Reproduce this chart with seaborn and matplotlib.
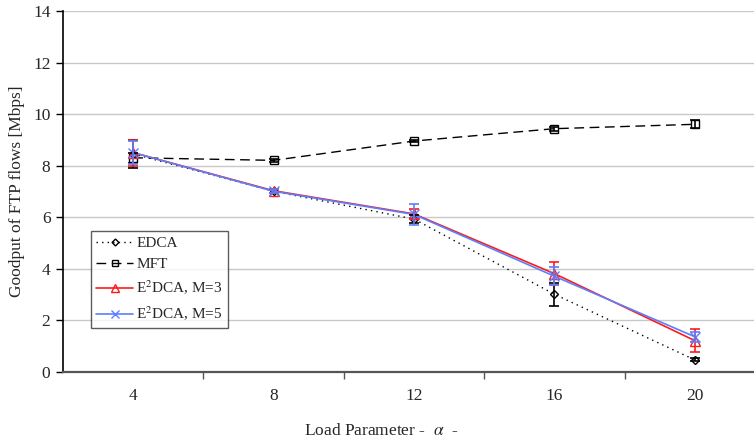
import numpy as np
import pandas as pd
import seaborn as sns
import matplotlib
matplotlib.use("Agg")
import matplotlib.pyplot as plt
from matplotlib.lines import Line2D

# Load parameter values (x axis)
alpha = [4, 8, 12, 16, 20]

# Goodput of FTP flows [Mbps] per scheme
edca = [8.45, 7.00, 5.92, 3.00, 0.45]
mft = [8.30, 8.20, 8.95, 9.43, 9.60]
e2dca_m3 = [8.50, 7.02, 6.12, 3.80, 1.20]
e2dca_m5 = [8.50, 7.00, 6.10, 3.70, 1.35]

# Half-widths of the confidence intervals
edca_err = [0.55, 0.08, 0.15, 0.45, 0.06]
mft_err = [0.20, 0.05, 0.05, 0.08, 0.15]
e2dca_m3_err = [0.50, 0.08, 0.20, 0.45, 0.45]
e2dca_m5_err = [0.45, 0.08, 0.40, 0.35, 0.20]

series_names = ["EDCA", "MFT", "E$^2$DCA, M=3", "E$^2$DCA, M=5"]
series_vals = [edca, mft, e2dca_m3, e2dca_m5]
series_errs = [edca_err, mft_err, e2dca_m3_err, e2dca_m5_err]

frames = []
for name, vals, errs in zip(series_names, series_vals, series_errs):
    frames.append(pd.DataFrame({"alpha": alpha, "goodput": vals,
                                "err": errs, "scheme": name}))
df = pd.concat(frames, ignore_index=True)

sns.set_theme(style="white")
plt.rcParams["font.family"] = ["Liberation Serif", "DejaVu Serif"]
plt.rcParams["mathtext.fontset"] = "stix"

styles = {
    "EDCA": dict(color="black", ls=(0, (1, 3)), marker="D", ms=4.5, lw=1.0),
    "MFT": dict(color="black", ls=(0, (7, 4)), marker="s", ms=6, lw=1.0),
    "E$^2$DCA, M=3": dict(color="#ff1a1a", ls="-", marker="^", ms=7, lw=1.2),
    "E$^2$DCA, M=5": dict(color="#5b7fff", ls="-", marker="x", ms=7, lw=1.2),
}

fig = plt.figure(figsize=(7.54, 4.44), dpi=100)
ax = fig.add_axes([63 / 754, (444 - 371.5) / 444, 702 / 754, 360.5 / 444])

palette = {k: v["color"] for k, v in styles.items()}
sns.lineplot(data=df, x="alpha", y="goodput", hue="scheme", palette=palette,
             hue_order=series_names, ax=ax, legend=False, errorbar=None,
             sort=False)

handles = []
for line, name in zip(ax.lines, series_names):
    st = styles[name]
    line.set_linestyle(st["ls"])
    line.set_linewidth(st["lw"])
    line.set_marker(st["marker"])
    line.set_markersize(st["ms"])
    line.set_markerfacecolor("none" if st["marker"] != "x" else st["color"])
    line.set_markeredgecolor(st["color"])
    line.set_markeredgewidth(1.0)
    sub = df[df["scheme"] == name]
    ax.errorbar(sub["alpha"], sub["goodput"], yerr=sub["err"], fmt="none",
                ecolor=st["color"], elinewidth=1.2, capsize=3.5, capthick=1.2,
                zorder=line.get_zorder())
    handles.append(Line2D([], [], color=st["color"], ls=st["ls"], lw=st["lw"],
                          marker=st["marker"], ms=st["ms"] - 1,
                          mfc="none" if st["marker"] != "x" else st["color"],
                          mec=st["color"]))

ax.set_xlim(2, 22)
ax.set_ylim(0, 14)
ax.set_yticks(np.arange(0, 15, 2))
ax.set_xticks(alpha)
ax.set_xticks([6, 10, 14, 18], minor=True)
ax.tick_params(axis="x", which="major", length=0, pad=12, labelsize=12.5)
ax.tick_params(axis="x", which="minor", length=5, width=1, color="#555555",
               direction="out", bottom=True)
ax.tick_params(axis="y", which="major", length=5, width=1, color="black",
               direction="out", left=True, labelsize=12.5, pad=4)
ax.yaxis.grid(True, color="#c8c8c8", lw=1)
ax.set_axisbelow(True)

for s in ["top", "right"]:
    ax.spines[s].set_visible(False)
ax.spines["left"].set_color("black")
ax.spines["left"].set_linewidth(1.2)
ax.spines["bottom"].set_color("#555555")
ax.spines["bottom"].set_linewidth(1.6)

ax.set_xlabel("")
ax.set_ylabel("Goodput of FTP flows [Mbps]", fontsize=12.5, labelpad=6)
fig.text(381 / 754, 1 - 431 / 444, "Load Parameter -  $\\alpha$  -",
         ha="center", va="center", fontsize=12.5)

leg = ax.legend(handles, series_names, loc="upper left",
                bbox_to_anchor=(91 / 754, 1 - 231 / 444),
                bbox_transform=fig.transFigure, fontsize=11,
                frameon=True, fancybox=False, handlelength=2.4,
                handletextpad=0.2, borderpad=0.35, labelspacing=0.5,
                borderaxespad=0)
leg.get_frame().set_edgecolor("#333333")
leg.get_frame().set_linewidth(1.0)

fig.savefig("out.png", dpi=100)
